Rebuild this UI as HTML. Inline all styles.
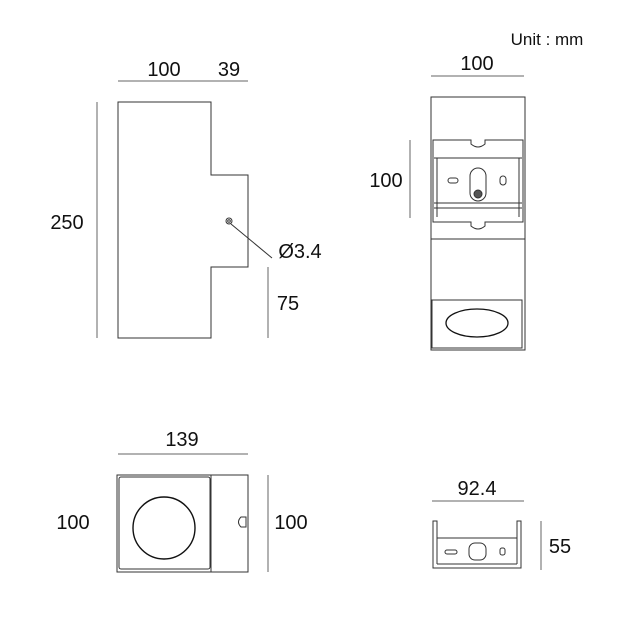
<!DOCTYPE html>
<html><head><style>body{margin:0;background:#fff}svg{display:block}text{font-family:"Liberation Sans",sans-serif;font-size:20px;fill:#111}</style></head>
<body><svg width="620" height="620" viewBox="0 0 620 620" fill="none" stroke="#333" stroke-width="1">
<text x="547" y="45" text-anchor="middle" stroke="none" style="font-size:17px">Unit : mm</text>
<path d="M118 102H211V175H248V267H211V338H118Z"/>
<line x1="118" y1="81" x2="211" y2="81" stroke="#666"/><line x1="211" y1="81" x2="248" y2="81" stroke="#666"/>
<text x="164" y="76" text-anchor="middle" stroke="none">100</text>
<text x="229" y="76" text-anchor="middle" stroke="none">39</text>
<line x1="97" y1="102" x2="97" y2="338" stroke="#666"/>
<text x="67" y="229" text-anchor="middle" stroke="none">250</text>
<circle cx="229" cy="221" r="3"/><circle cx="229" cy="221" r="1.3"/>
<line x1="231" y1="224" x2="272" y2="258"/>
<text x="300" y="258" text-anchor="middle" stroke="none">Ø3.4</text>
<line x1="268" y1="267" x2="268" y2="338" stroke="#666"/>
<text x="288" y="310" text-anchor="middle" stroke="none">75</text>
<line x1="431" y1="76" x2="524" y2="76" stroke="#666"/>
<text x="477" y="70" text-anchor="middle" stroke="none">100</text>
<rect x="431" y="97" width="94" height="253"/>
<path d="M433 140H471V144Q478 150 485 144V140H523V222H485V226Q478 232 471 226V222H433Z"/>
<path d="M434 158H522M434 203H522M437 158V217M519 158V217M434 208H522"/>
<rect x="448" y="178" width="10" height="5" rx="2.5"/>
<rect x="470" y="168" width="16" height="33" rx="8"/>
<circle cx="478" cy="194" r="4" fill="#555"/>
<rect x="500" y="176" width="6" height="9" rx="3"/>
<line x1="431" y1="239" x2="525" y2="239"/>
<rect x="432" y="300" width="90" height="48"/>
<ellipse cx="477" cy="323" rx="31" ry="14" stroke="#111" stroke-width="1.3"/>
<line x1="410" y1="140" x2="410" y2="218" stroke="#666"/>
<text x="386" y="187" text-anchor="middle" stroke="none">100</text>
<line x1="118" y1="454" x2="248" y2="454" stroke="#666"/>
<text x="182" y="446" text-anchor="middle" stroke="none">139</text>
<rect x="117" y="475" width="131" height="97"/>
<rect x="119" y="477" width="91" height="92" rx="2"/>
<line x1="211" y1="475" x2="211" y2="572"/>
<circle cx="164" cy="528" r="31" stroke="#111" stroke-width="1.4"/>
<path d="M246 517H241Q236 522 241 527H246Z"/>
<text x="73" y="529" text-anchor="middle" stroke="none">100</text>
<line x1="268" y1="475" x2="268" y2="572" stroke="#666"/>
<text x="291" y="529" text-anchor="middle" stroke="none">100</text>
<line x1="432" y1="501" x2="524" y2="501" stroke="#666"/>
<text x="477" y="495" text-anchor="middle" stroke="none">92.4</text>
<path d="M433 521V568H521V521H517V538H437V521Z"/>
<line x1="437" y1="538" x2="437" y2="564"/><line x1="517" y1="538" x2="517" y2="564"/>
<line x1="437" y1="564" x2="517" y2="564"/>
<rect x="445" y="550" width="12" height="4" rx="2"/>
<rect x="469" y="543" width="17" height="17" rx="6"/>
<rect x="500" y="548" width="5" height="7" rx="2"/>
<line x1="541" y1="521" x2="541" y2="570" stroke="#666"/>
<text x="560" y="553" text-anchor="middle" stroke="none">55</text>
</svg></body></html>
